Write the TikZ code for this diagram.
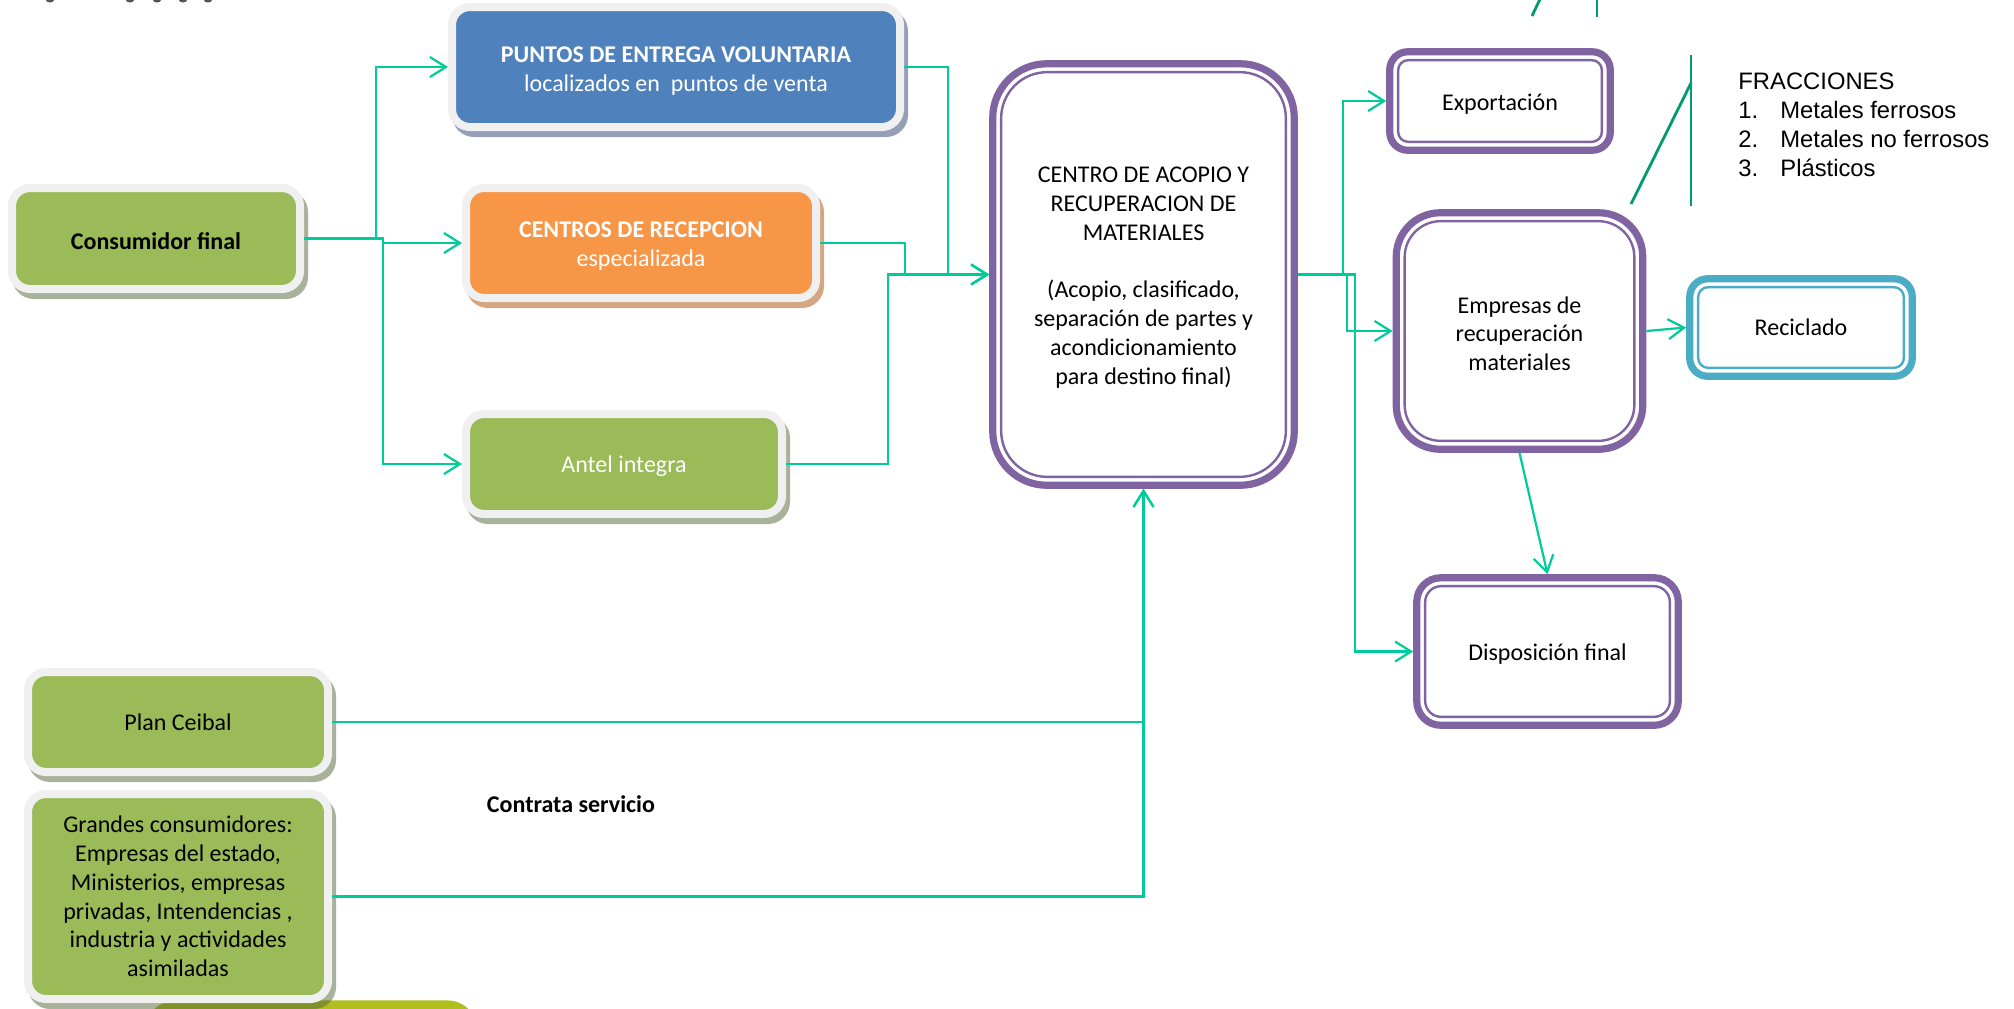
\documentclass[tikz,border=0pt]{standalone}
\usepackage{fontspec}
\setmainfont{Carlito}
\newfontfamily\arialfont{Liberation Sans}
\usetikzlibrary{arrows.meta,calc}

\definecolor{gbox}{RGB}{155,187,89}
\definecolor{bbox}{RGB}{79,129,189}
\definecolor{obox}{RGB}{247,150,70}
\definecolor{ring}{RGB}{240,240,240}
\definecolor{gshad}{RGB}{83,101,53}
\definecolor{bshad}{RGB}{45,65,115}
\definecolor{oshad}{RGB}{173,81,5}
\definecolor{purp}{RGB}{128,100,162}
\definecolor{tealc}{RGB}{75,172,198}
\definecolor{linkcol}{RGB}{0,204,153}
\definecolor{brack}{RGB}{0,155,110}
\definecolor{limec}{RGB}{176,190,30}
\definecolor{fragc}{RGB}{85,85,85}

% thin inner outline of a double-framed box
\newcommand\innerframe[3]{%
  \draw[#2, line width=1.2pt, rounded corners=#3]
    ([shift={(6pt,6pt)}]#1.south west) rectangle ([shift={(-6pt,-6pt)}]#1.north east);}
% extra room above the first line, so box text sits like a full line box
\newcommand\tpad{\rule{0pt}{11pt}}

\begin{document}
\fontsize{12}{14.4}\selectfont
\begin{tikzpicture}[x=0.5pt,y=-0.5pt,
  softbox/.style={draw=ring, line width=4pt, rounded corners=9pt, inner sep=0pt, align=center},
  softshadow/.style={fill=#1, fill opacity=0.5, rounded corners=11pt, inner sep=0pt},
  framebox/.style={draw=#1, line width=3.6pt, fill=white, inner sep=0pt, align=center},
  link/.style={draw=linkcol, line width=1.1pt, -{Straight Barb[length=8pt,width=10pt]}},
  bracketline/.style={draw=brack, line width=1.4pt}
]
\useasboundingbox (0,0) rectangle (2014,1008);
\fill[white] (0,0) rectangle (2014,1008);
\clip (0,0) rectangle (2014,1008);

% partly visible box at the lower edge
\node[fill=limec, rounded corners=15pt, minimum width=166pt, minimum height=60pt,
      anchor=north west, inner sep=0pt] (lower) at (145,1000) {};

% drop shadows
\node[softshadow=gshad, minimum width=148pt, minimum height=54.5pt] (cons-sh) at ([xshift=2pt,yshift=-3pt]156,238.5) {};
\node[softshadow=bshad, minimum width=228pt, minimum height=64pt]   (blue-sh) at ([xshift=2pt,yshift=-3pt]676,67) {};
\node[softshadow=oshad, minimum width=179pt, minimum height=59pt]   (orange-sh) at ([xshift=2pt,yshift=-3pt]641,243) {};
\node[softshadow=gshad, minimum width=162pt, minimum height=54pt]   (antel-sh) at ([xshift=2pt,yshift=-3pt]624,464) {};
\node[softshadow=gshad, minimum width=154pt, minimum height=54pt]   (plan-sh) at ([xshift=2pt,yshift=-3pt]178,722) {};
\node[softshadow=gshad, minimum width=154pt, minimum height=106.5pt] (grandes-sh) at ([xshift=2pt,yshift=-3pt]178,896.5) {};

% source boxes
\node[softbox, fill=gbox, minimum width=144pt, minimum height=50.5pt] (cons) at (156,238.5)
  {\tpad\textbf{Consumidor final}};
\node[softbox, fill=bbox, text=white, minimum width=224pt, minimum height=60pt] (blue) at (676,67)
  {\rule{0pt}{12pt}\textbf{PUNTOS DE ENTREGA VOLUNTARIA}\\localizados en\ \ puntos de venta};
\node[softbox, fill=obox, text=white, minimum width=175pt, minimum height=55pt] (orange) at (641,243)
  {\tpad\textbf{CENTROS DE RECEPCION}\\especializada};
\node[softbox, fill=gbox, text=white, minimum width=158pt, minimum height=50pt] (antel) at (624,464)
  {\tpad Antel integra};
\node[softbox, fill=gbox, minimum width=150pt, minimum height=50pt] (plan) at (178,722)
  {Plan Ceibal};
\node[softbox, fill=gbox, minimum width=150pt, minimum height=102.5pt] (grandes) at (178,896.5)
  {Grandes consumidores:\\Empresas del estado,\\Ministerios, empresas\\privadas, Intendencias ,\\industria y actividades\\asimiladas};

\node[font=\bfseries, inner sep=0pt] (contrata) at (571,804) {Contrata servicio};

% processing and destination boxes
\node[framebox=purp, rounded corners=27pt, minimum width=150.75pt, minimum height=210.75pt] (centro) at (1143.5,274.5)
  {\tpad CENTRO DE ACOPIO Y\\RECUPERACION DE\\MATERIALES\\[14.4pt](Acopio, clasificado,\\separación de partes y\\acondicionamiento\\para destino final)};
\innerframe{centro}{purp}{23pt}

\node[framebox=purp, rounded corners=9pt, minimum width=110.25pt, minimum height=49.25pt] (expo) at (1500,101)
  {\tpad Exportación};
\innerframe{expo}{purp}{5pt}

\node[framebox=purp, rounded corners=22pt, minimum width=123.25pt, minimum height=118.25pt] (emp) at (1519.5,331)
  {\tpad Empresas de\\recuperación\\materiales};
\innerframe{emp}{purp}{18pt}

\node[framebox=purp, rounded corners=12pt, minimum width=130.75pt, minimum height=73.75pt] (dispo) at (1547.5,651.5)
  {\tpad Disposición final};
\innerframe{dispo}{purp}{8pt}

\node[framebox=tealc, rounded corners=9pt, minimum width=111.25pt, minimum height=48.75pt] (recic) at (1801,327.5)
  {Reciclado};
\innerframe{recic}{tealc}{5pt}

% routing columns
\coordinate (j1) at (376,0);
\coordinate (j2) at (383,0);
\coordinate (j3) at (948,0);
\coordinate (j4) at (905,0);
\coordinate (j5) at (888,0);
\coordinate (j6) at (1343,0);
\coordinate (j7) at (1347,0);
\coordinate (j8) at (1355,0);

% connectors
\draw[link] (cons.east) -- (cons.east -| j1) |- (blue.west);
\draw[link] (cons.east) -- (cons.east -| j2) |- (orange.west);
\draw[link] (cons.east) -- (cons.east -| j2) |- (antel.west);
\draw[link] (blue.east) -- (blue.east -| j3) |- (centro.west);
\draw[link] (orange.east) -- (orange.east -| j4) |- (centro.west);
\draw[link] (antel.east) -- (antel.east -| j5) |- (centro.west);
\draw[link] (plan.east) -| (centro.south);
\draw[link] (grandes.east) -| (centro.south);
\draw[link] (centro.east) -- (centro.east -| j6) |- (expo.west);
\draw[link] (centro.east) -- (centro.east -| j7) |- (emp.west);
\draw[link] (centro.east) -- (centro.east -| j8) |- (dispo.west);
\draw[link] (emp.east) -- (recic.west);
\draw[link] (emp.south) -- (dispo.north);

% fractions list with its bracket
\node[anchor=north west, inner sep=0pt, align=left, font=\arialfont\fontsize{11.9}{14.6}\selectfont] (frac) at (1738,72)
  {FRACCIONES\\\makebox[21pt][l]{1.}Metales ferrosos\\\makebox[21pt][l]{2.}Metales no ferrosos\\\makebox[21pt][l]{3.}Plásticos};
\coordinate (brtop) at (1691,55);
\coordinate (brbot) at (1691,206);
\coordinate (brknee) at (1691,83);
\coordinate (brfoot) at (1631,204);
\draw[bracketline] (brtop) -- (brbot);
\draw[bracketline] (brfoot) -- (brknee);

% pieces of elements running past the upper edge
\coordinate (ta) at (1532,16);
\coordinate (tb) at (1541,-3);
\coordinate (tc) at (1597,-3);
\coordinate (td) at (1597,17);
\draw[bracketline] (ta) -- (tb);
\draw[bracketline] (tc) -- (td);
\foreach \fx in {50,130,157,183,208}
  \fill[fragc] (\fx,0) ellipse (4 and 2.5);
\end{tikzpicture}
\end{document}
